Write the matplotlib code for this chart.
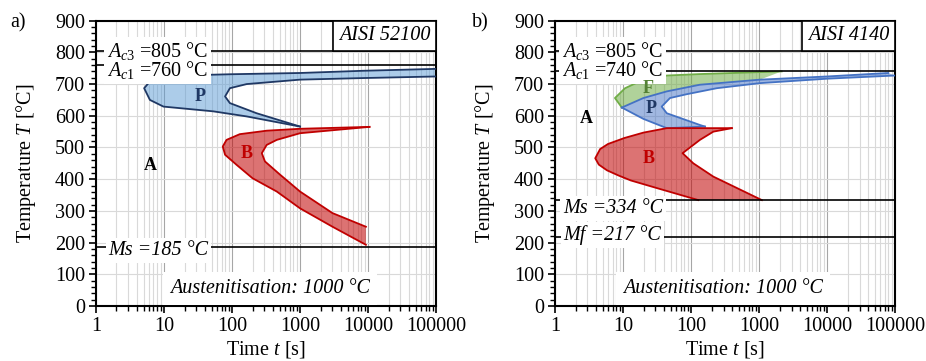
import numpy as np
import matplotlib
matplotlib.use("Agg")
import matplotlib.pyplot as plt
from matplotlib.ticker import LogLocator, MultipleLocator, FuncFormatter, NullFormatter

plt.rcParams["font.family"] = ["Liberation Serif", "DejaVu Serif"]
plt.rcParams["mathtext.fontset"] = "custom"
plt.rcParams["mathtext.rm"] = "Liberation Serif"
plt.rcParams["mathtext.it"] = "Liberation Serif:italic"
plt.rcParams["font.size"] = 14.5

# ---- AISI 52100 (panel a), time [s] / temperature [C]
p52_start_t = [100000, 8500, 1000, 93, 17, 8.7, 5.9, 5.1, 6.2, 9.8, 21.6, 53, 164, 1000]
p52_start_T = [748, 742, 735, 731, 727, 717, 703, 687, 650, 629, 622, 614, 598, 566]
p52_end_t = [1000, 230, 93, 79, 93, 164, 1000, 8500, 100000]
p52_end_T = [566, 608, 640, 661, 687, 700, 714, 719, 724]

b52_start_t = [10500, 1000, 323, 130, 83, 73, 79, 117, 200, 455, 1000, 3000, 9300]
b52_start_T = [565, 559, 553, 542, 524, 503, 477, 445, 403, 361, 308, 250, 193]
b52_end_t = [9300, 3000, 1000, 510, 305, 274, 323, 455, 1000, 10500]
b52_end_T = [250, 293, 361, 414, 456, 482, 508, 524, 545, 565]

# ---- AISI 4140 (panel b)
f41_start_t = [2150, 135, 44, 19.9, 10.7, 7.6, 9.6]
f41_start_T = [740, 731.6, 727, 714, 687, 656, 626]
p41_start_t = [9.6, 19.9, 44, 135, 1030, 9950, 79400]
p41_start_T = [626, 656, 677, 698, 714, 724, 735]
p41_low_t = [9.6, 20, 44, 160]
p41_low_T = [626, 590, 561, 566]
p41_end_t = [160, 135, 44, 37, 49, 86, 239, 1030, 10000, 100000]
p41_end_T = [566, 571, 608, 629, 656, 668, 687, 703, 717, 727]

b41_start_t = [398, 44, 20, 10.5, 6, 4.6, 3.9, 4.4, 5.8, 8.5, 13, 35, 128]
b41_start_T = [561, 561, 547, 530, 511, 495, 466, 446, 428, 412, 396, 369, 334]
b41_end_t = [1100, 266, 213, 108, 75, 135, 213, 398]
b41_end_T = [334, 398, 408, 450, 482, 524, 550, 561]

# critical temperatures
crit_52 = {"Ac3": 805, "Ac1": 760, "Ms": 185}
crit_41 = {"Ac3": 805, "Ac1": 740, "Ms": 334, "Mf": 217}

NAVY = "#1f3864"
RED = "#c00000"


def setup(ax, steel):
    ax.set_xscale("log")
    ax.set_xlim(1, 1e5)
    ax.set_ylim(0, 900)
    ax.set_yticks(range(0, 901, 100))
    ax.yaxis.set_minor_locator(MultipleLocator(20))
    ax.xaxis.set_major_locator(LogLocator(10, numticks=20))
    ax.xaxis.set_minor_locator(LogLocator(10, subs=np.arange(2, 10), numticks=100))
    ax.xaxis.set_major_formatter(FuncFormatter(lambda v, p: f"{v:.0f}"))
    ax.xaxis.set_minor_formatter(NullFormatter())
    ax.grid(which="major", axis="x", color="#a6a6a6", lw=0.8)
    ax.grid(which="minor", axis="x", color="#d9d9d9", lw=0.8)
    ax.grid(which="major", axis="y", color="#d9d9d9", lw=0.8)
    ax.set_axisbelow(True)
    ax.tick_params(which="major", direction="out", length=5, width=1.2, pad=3)
    ax.tick_params(which="minor", direction="out", length=3.5, width=1)
    for s in ax.spines.values():
        s.set_linewidth(1.5)
    ax.set_xlabel("Time $t$ [s]")
    ax.xaxis.set_label_coords(0.5, -0.115)
    ax.set_ylabel("Temperature $T$ [°C]")
    ax.yaxis.set_label_coords(-0.17, 0.5)
    ax.text(0.9835, 0.98, steel, transform=ax.transAxes, ha="right", va="top",
            style="italic", zorder=8,
            bbox=dict(facecolor="white", edgecolor="black", lw=1.2, pad=4))


def temp_line(ax, T, label, x0, ty, italic=False):
    ax.axhline(T, color="black", lw=1.2, zorder=4)
    style = "italic" if italic else "normal"
    # white mask behind the label, text itself drawn above all masks
    ax.text(x0, ty, label, ha="left", va="baseline", zorder=5, style=style,
            color="none", bbox=dict(facecolor="white", edgecolor="none", pad=2))
    ax.text(x0, ty, label, ha="left", va="baseline", zorder=6, style=style)


def phase_label(ax, t, T, s, color="black"):
    ax.text(t, T, s, ha="center", va="center", weight="bold", fontsize=13,
            color=color, zorder=7)


fig = plt.figure(figsize=(9.26, 3.61), dpi=100)
ax1 = fig.add_axes([0.1037, 0.1524, 0.3672, 0.7903])
ax2 = fig.add_axes([0.5994, 0.1524, 0.3672, 0.7903])

# panel a
setup(ax1, "AISI 52100")
ax1.fill(p52_start_t + p52_end_t[1:], p52_start_T + p52_end_T[1:],
         color="#5b9bd5", alpha=0.5, lw=0, zorder=2)
ax1.fill(b52_start_t + b52_end_t, b52_start_T + b52_end_T,
         color=RED, alpha=0.55, lw=0, zorder=2)
ax1.plot(p52_start_t, p52_start_T, color=NAVY, lw=1.3, zorder=3)
ax1.plot(p52_end_t, p52_end_T, color=NAVY, lw=1.3, zorder=3)
ax1.plot(b52_start_t, b52_start_T, color=RED, lw=1.3, zorder=3)
ax1.plot(b52_end_t, b52_end_T, color=RED, lw=1.3, zorder=3)

temp_line(ax1, crit_52["Ac3"], r"$A_{\mathit{c3}}$ =805 °C", 1.44, 787)
temp_line(ax1, crit_52["Ac1"], r"$A_{\mathit{c1}}$ =760 °C", 1.44, 724)
temp_line(ax1, crit_52["Ms"], "Ms =185 °C", 1.52, 161, italic=True)

phase_label(ax1, 6.2, 443, "A")
phase_label(ax1, 34, 661, "P", NAVY)
phase_label(ax1, 164, 482, "B", RED)
ax1.text(0.512, 40 / 900, "Austenitisation: 1000 °C", transform=ax1.transAxes,
         ha="center", va="baseline", style="italic", zorder=5,
         bbox=dict(facecolor="white", edgecolor="none", pad=5))

# panel b
setup(ax2, "AISI 4140")
p41_poly_t = p41_start_t[::-1] + p41_low_t[1:] + p41_end_t[1:]
p41_poly_T = p41_start_T[::-1] + p41_low_T[1:] + p41_end_T[1:]
ax2.fill(p41_poly_t, p41_poly_T, color="#4472c4", alpha=0.5, lw=0, zorder=2)
ax2.fill(f41_start_t + p41_start_t[1:5], f41_start_T + p41_start_T[1:5],
         color="#70ad47", alpha=0.55, lw=0, zorder=2)
ax2.fill(b41_start_t + b41_end_t, b41_start_T + b41_end_T,
         color=RED, alpha=0.55, lw=0, zorder=2)
ax2.plot(f41_start_t, f41_start_T, color="#70ad47", lw=1.3, zorder=3)
for tt, TT in [(p41_start_t, p41_start_T), (p41_low_t, p41_low_T), (p41_end_t, p41_end_T)]:
    ax2.plot(tt, TT, color="#4472c4", lw=1.3, zorder=3)
ax2.plot(b41_start_t, b41_start_T, color=RED, lw=1.3, zorder=3)
ax2.plot(b41_end_t, b41_end_T, color=RED, lw=1.3, zorder=3)

temp_line(ax2, crit_41["Ac3"], r"$A_{\mathit{c3}}$ =805 °C", 1.25, 787)
temp_line(ax2, crit_41["Ac1"], r"$A_{\mathit{c1}}$ =740 °C", 1.25, 724)
temp_line(ax2, crit_41["Ms"], "Ms =334 °C", 1.32, 293, italic=True)
temp_line(ax2, crit_41["Mf"], "Mf =217 °C", 1.33, 208, italic=True)

phase_label(ax2, 2.86, 593, "A")
phase_label(ax2, 23.5, 687, "F", "#548235")
phase_label(ax2, 26, 624, "P", NAVY)
phase_label(ax2, 23.5, 466, "B", RED)
ax2.text(0.494, 40 / 900, "Austenitisation: 1000 °C", transform=ax2.transAxes,
         ha="center", va="baseline", style="italic", zorder=5,
         bbox=dict(facecolor="white", edgecolor="none", pad=5))

fig.text(0.011, 0.936, "a)", va="center")
fig.text(0.51, 0.936, "b)", va="center")

fig.savefig("out.png", dpi=100)
